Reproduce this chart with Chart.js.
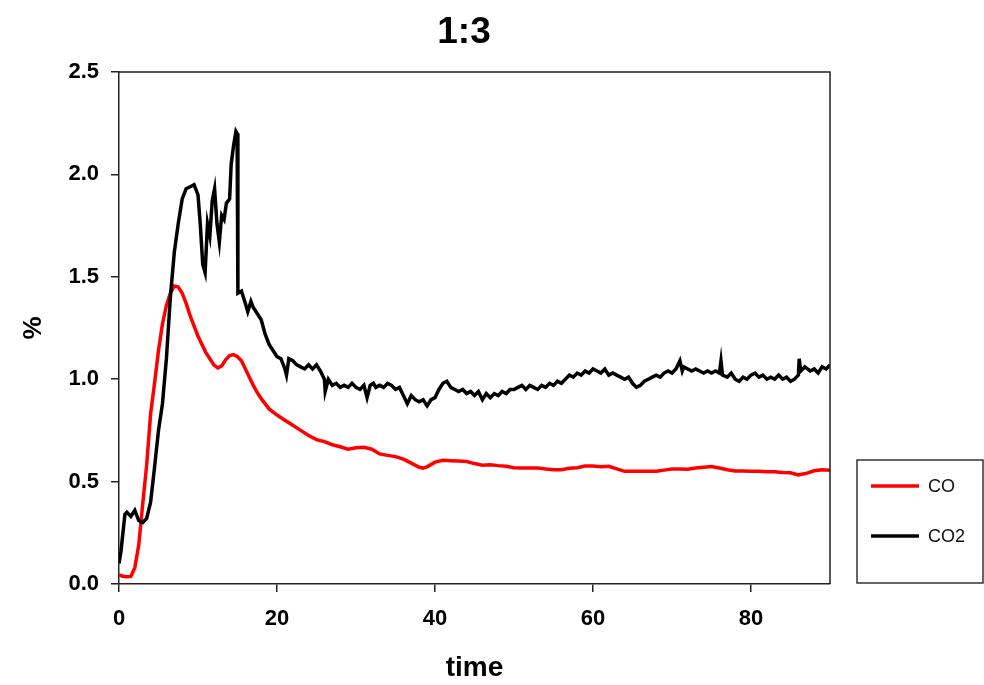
<!DOCTYPE html>
<html>
<head>
<meta charset="utf-8">
<script src="https://cdn.jsdelivr.net/npm/chart.js@4/dist/chart.umd.min.js"></script>
<style>
  html, body { margin: 0; padding: 0; background: #ffffff; }
  #wrap { width: 984px; height: 685px; position: relative; }
</style>
</head>
<body>
<div id="wrap"><canvas id="c" width="984" height="685"></canvas></div>
<script>
const chartTitle = "1:3";
const xAxisTitle = "time";
const yAxisTitle = "%";
const xTicks = [0, 20, 40, 60, 80];
const yTicks = [0.0, 0.5, 1.0, 1.5, 2.0, 2.5];
const seriesNames = ["CO", "CO2"];

const coTime = [0, 0.5, 1, 1.5, 2, 2.5, 3, 3.5, 4, 4.5, 5, 5.5, 6, 6.5, 7, 7.5, 8, 8.5, 9, 9.5,
  10, 10.5, 11, 11.5, 12, 12.5, 13, 13.5, 14, 14.5, 15, 15.5, 16, 16.5, 17, 17.5, 18, 19, 20,
  21, 22, 23, 24, 25, 26, 27, 28, 29, 30, 31, 32, 33, 34, 35, 36, 37, 38, 38.5, 39, 40,
  41, 42, 43, 44, 45, 46, 47, 48, 49, 50, 51, 52, 53, 54, 55, 56, 57, 58, 59, 60,
  61, 62, 63, 64, 65, 66, 67, 68, 69, 70, 71, 72, 73, 74, 75, 76, 77, 78, 79, 80,
  81, 82, 83, 84, 85, 86, 87, 88, 89, 90];
const coValues = [0.045, 0.038, 0.035, 0.037, 0.08, 0.19, 0.39, 0.58, 0.83, 0.98, 1.14, 1.27, 1.36, 1.42, 1.455, 1.45, 1.42, 1.37, 1.31, 1.26,
  1.21, 1.17, 1.13, 1.10, 1.07, 1.055, 1.065, 1.095, 1.115, 1.12, 1.11, 1.09, 1.05, 1.01, 0.97, 0.935, 0.905, 0.855, 0.825,
  0.80, 0.775, 0.75, 0.725, 0.705, 0.695, 0.68, 0.67, 0.658, 0.665, 0.668, 0.658, 0.635, 0.628, 0.622, 0.61, 0.59, 0.57, 0.566, 0.572, 0.595,
  0.604, 0.602, 0.60, 0.598, 0.588, 0.58, 0.582, 0.578, 0.575, 0.568, 0.566, 0.566, 0.566, 0.562, 0.558, 0.558, 0.565, 0.568, 0.576, 0.576,
  0.572, 0.575, 0.562, 0.55, 0.55, 0.55, 0.55, 0.551, 0.556, 0.561, 0.562, 0.56, 0.566, 0.57, 0.574, 0.566, 0.558, 0.552, 0.552, 0.55,
  0.55, 0.548, 0.548, 0.545, 0.543, 0.533, 0.54, 0.553, 0.558, 0.556];

const co2Time = [0, 0.25, 0.5, 0.75, 1, 1.5, 2, 2.5, 3, 3.5, 4, 4.5, 5, 5.5, 6, 6.5, 7, 7.5, 8, 8.5, 9, 9.5,
  10, 10.3, 10.6, 10.9, 11.2, 11.5, 11.8, 12.1, 12.4, 12.7, 13, 13.3, 13.6, 14, 14.2, 14.5, 14.8, 14.95, 15.05,
  15.5, 16, 16.3, 16.7, 17, 17.5, 18, 18.5, 19, 19.5, 20, 20.5, 21, 21.2, 21.5, 22, 22.5, 23, 23.5, 24, 24.5,
  25, 25.5, 26, 26.1, 26.5, 27, 27.5, 28, 28.5, 29, 29.5, 30, 30.5, 31, 31.4, 31.8, 32.2, 32.5, 33, 33.5, 34, 34.5,
  35, 35.5, 36, 36.5, 37, 37.5, 38, 38.5, 39, 39.5, 40, 40.5, 41, 41.5, 42, 42.5, 43, 43.5, 44, 44.5,
  45, 45.5, 46, 46.5, 47, 47.5, 48, 48.5, 49, 49.5, 50, 50.5, 51, 51.5, 52, 52.5, 53, 53.5, 54, 54.5,
  55, 55.5, 56, 56.5, 57, 57.5, 58, 58.5, 59, 59.5, 60, 60.5, 61, 61.5, 62, 62.5, 63, 63.5, 64, 64.5,
  65, 65.5, 66, 66.5, 67, 67.5, 68, 68.5, 69, 69.5, 70, 70.5, 71, 71.3, 71.5, 72, 72.5, 73, 73.5, 74, 74.5,
  75, 75.5, 76, 76.2, 76.4, 77, 77.5, 78, 78.5, 79, 79.5, 80, 80.5, 81, 81.5, 82, 82.5, 83, 83.5, 84, 84.5,
  85, 85.5, 86, 86.1, 86.3, 86.8, 87.5, 88, 88.5, 89, 89.5, 90];
const co2Values = [0.10, 0.16, 0.25, 0.34, 0.35, 0.33, 0.36, 0.31, 0.30, 0.32, 0.40, 0.57, 0.75, 0.88, 1.10, 1.40, 1.62, 1.76, 1.88, 1.93, 1.94, 1.95,
  1.90, 1.75, 1.56, 1.52, 1.76, 1.70, 1.87, 1.93, 1.76, 1.67, 1.80, 1.78, 1.86, 1.88, 2.05, 2.14, 2.21, 2.20, 1.42,
  1.43, 1.37, 1.33, 1.38, 1.35, 1.32, 1.29, 1.22, 1.17, 1.14, 1.11, 1.10, 1.05, 1.02, 1.10, 1.09, 1.07, 1.06, 1.05, 1.07, 1.05,
  1.07, 1.04, 1.00, 0.94, 1.00, 0.97, 0.98, 0.96, 0.97, 0.96, 0.98, 0.96, 0.95, 0.97, 0.91, 0.97, 0.98, 0.96, 0.97, 0.96, 0.98, 0.97,
  0.95, 0.96, 0.92, 0.88, 0.92, 0.90, 0.89, 0.90, 0.87, 0.90, 0.91, 0.95, 0.98, 0.99, 0.96, 0.95, 0.94, 0.95, 0.93, 0.94,
  0.92, 0.94, 0.90, 0.93, 0.91, 0.93, 0.92, 0.94, 0.93, 0.95, 0.95, 0.96, 0.97, 0.95, 0.97, 0.96, 0.95, 0.97, 0.96, 0.98,
  0.97, 0.99, 0.98, 1.00, 1.02, 1.01, 1.03, 1.02, 1.04, 1.03, 1.05, 1.04, 1.03, 1.05, 1.02, 1.03, 1.02, 1.01, 1.00, 1.01,
  0.98, 0.96, 0.97, 0.99, 1.00, 1.01, 1.02, 1.01, 1.03, 1.04, 1.03, 1.05, 1.09, 1.04, 1.06, 1.05, 1.04, 1.05, 1.04, 1.03, 1.04,
  1.03, 1.04, 1.03, 1.09, 1.02, 1.01, 1.03, 1.00, 0.99, 1.01, 1.00, 1.02, 1.03, 1.01, 1.02, 1.00, 1.01, 1.00, 1.02, 1.00, 1.01,
  0.99, 1.00, 1.02, 1.10, 1.04, 1.06, 1.04, 1.05, 1.03, 1.06, 1.05, 1.07];

const FONT = "'Liberation Sans', Arial, sans-serif";

const toPoints = (xs, ys) => xs.map((x, i) => ({ x: x, y: ys[i] }));

const framePlugin = {
  id: 'frame',
  afterDraw(chart) {
    const { ctx, chartArea: a } = chart;
    ctx.save();
    ctx.strokeStyle = '#222';
    ctx.lineWidth = 1.5;
    ctx.beginPath();
    ctx.moveTo(a.left, a.top);
    ctx.lineTo(a.right, a.top);
    ctx.lineTo(a.right, a.bottom);
    ctx.stroke();
    // title
    ctx.fillStyle = '#000';
    ctx.font = 'bold 37px ' + FONT;
    ctx.textAlign = 'center';
    ctx.textBaseline = 'alphabetic';
    ctx.fillText(chartTitle, 464, 43);
    // legend box
    ctx.strokeStyle = '#333';
    ctx.lineWidth = 1.5;
    ctx.strokeRect(857, 460, 126, 123);
    const items = [0, 1];
    items.forEach((idx, k) => {
      const ds = chart.data.datasets[idx];
      const y = 486 + k * 50;
      ctx.strokeStyle = ds.borderColor;
      ctx.lineWidth = 3.5;
      ctx.beginPath();
      ctx.moveTo(871, y);
      ctx.lineTo(919, y);
      ctx.stroke();
      ctx.fillStyle = '#111';
      ctx.font = '18px ' + FONT;
      ctx.textAlign = 'left';
      ctx.textBaseline = 'middle';
      ctx.fillText(ds.label, 928, y + 1);
    });
    ctx.restore();
  }
};

new Chart(document.getElementById('c'), {
  type: 'line',
  data: {
    datasets: [
      { label: seriesNames[0], data: toPoints(coTime, coValues), borderColor: '#ff0000', borderWidth: 3.5,
        pointRadius: 0, tension: 0, order: 1, fill: false },
      { label: seriesNames[1], data: toPoints(co2Time, co2Values), borderColor: '#000000', borderWidth: 3.5,
        pointRadius: 0, tension: 0, order: 0, fill: false }
    ]
  },
  options: {
    responsive: false,
    devicePixelRatio: 1,
    animation: false,
    layout: { padding: { top: 72, right: 154, bottom: 0, left: 0 } },
    plugins: { legend: { display: false }, tooltip: { enabled: false }, title: { display: false } },
    scales: {
      x: {
        type: 'linear', min: 0, max: 90,
        afterFit: s => { s.height = 101; },
        afterBuildTicks: s => { s.ticks = xTicks.map(v => ({ value: v })); },
        ticks: { color: '#000', font: { family: FONT, size: 22, weight: 'bold' }, padding: 14, maxRotation: 0 },
        grid: { display: true, drawOnChartArea: false, drawTicks: true, tickLength: 8, color: '#222', lineWidth: 1.5 },
        border: { display: true, color: '#222', width: 1.5 },
        title: { display: true, text: xAxisTitle, color: '#000', font: { family: FONT, size: 28, weight: 'bold' }, padding: { top: 0, bottom: 0 } }
      },
      y: {
        type: 'linear', min: 0, max: 2.5,
        afterFit: s => { s.width = 119; },
        afterBuildTicks: s => { s.ticks = yTicks.map(v => ({ value: v })); },
        ticks: { color: '#000', font: { family: FONT, size: 22, weight: 'bold' }, padding: 12,
          callback: v => v.toFixed(1) },
        grid: { display: true, drawOnChartArea: false, drawTicks: true, tickLength: 8, color: '#222', lineWidth: 1.5 },
        border: { display: true, color: '#222', width: 1.5 },
        title: { display: true, text: yAxisTitle, color: '#000', font: { family: FONT, size: 26, weight: 'bold' }, padding: { top: 18, bottom: 0 } }
      }
    }
  },
  plugins: [framePlugin]
});
</script>
</body>
</html>
